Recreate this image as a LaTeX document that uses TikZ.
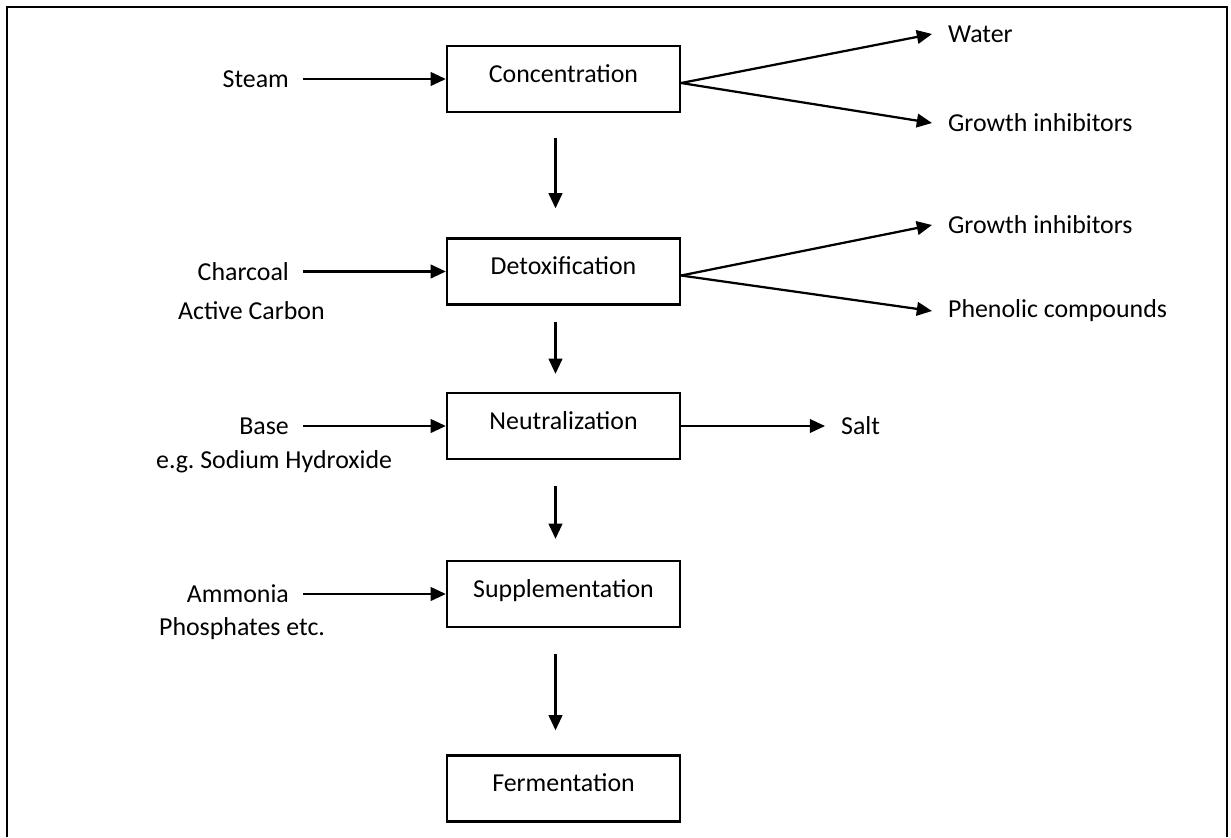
\documentclass[tikz,border=0pt]{standalone}
\usepackage{fontspec}
\setmainfont{Carlito}
\usetikzlibrary{arrows.meta,positioning}

\begin{document}
\begin{tikzpicture}[
      x=0.025cm, y=-0.025cm,
      font=\fontsize{18.4}{22}\selectfont,
      >={Triangle[length=0.38cm, width=0.34cm]},
      line width=1.6pt,
      stepbox/.style={draw, minimum width=5.825cm, minimum height=1.65cm,
                  inner sep=0pt, text height=0.45cm, text depth=0.3cm},
      inlbl/.style={anchor=east, inner xsep=0.325cm, inner ysep=0pt},
      outlbl/.style={anchor=west, inner xsep=0.375cm, inner ysep=0pt},
      note/.style={anchor=base west, inner sep=0pt},
    ]

    \useasboundingbox (0,0) rectangle (1231,837);

    % ---------- marco ----------
    \draw (7,837) -- (7,7) -- (1227,7) -- (1227,837);

    % ---------- pasos ----------
    \node[stepbox] (conc)  at (563.5,79)   {Concentration};
    \node[stepbox] (detox) at (563.5,271.5) {Detoxification};
    \node[stepbox] (neut)  at (563.5,426)  {Neutralization};
    \node[stepbox] (supp)  at (563.5,594)  {Supplementation};
    \node[stepbox] (ferm)  at (563.5,788.5) {Fermentation};

    \draw[->, shorten <=0.625cm, shorten >=0.725cm] ([xshift=-0.2cm]conc.south)  -- ([xshift=-0.2cm]detox.north);
    \draw[->, shorten <=0.4cm,   shorten >=0.45cm]  ([xshift=-0.2cm]detox.south) -- ([xshift=-0.2cm]neut.north);
    \draw[->, shorten <=0.65cm,  shorten >=0.525cm] ([xshift=-0.2cm]neut.south)  -- ([xshift=-0.2cm]supp.north);
    \draw[->, shorten <=0.65cm,  shorten >=0.6cm]   ([xshift=-0.2cm]supp.south)  -- ([xshift=-0.2cm]ferm.north);

    % ---------- entradas ----------
    \node[inlbl] (steam)    at (303,79)    {Steam};
    \node[inlbl] (charcoal) at (303,271.5) {Charcoal};
    \node[note]  (carbon)   at (177,319)   {Active Carbon};
    \node[inlbl] (base)     at (303,426)   {Base};
    \node[note]  (naoh)     at (155,468)   {e.g.\ Sodium Hydroxide};
    \node[inlbl] (ammonia)  at (303,594)   {Ammonia};
    \node[note]  (phosph)   at (158,635)   {Phosphates etc.};

    \draw[->] (steam.east)    -- (conc.west);
    \draw[->] (charcoal.east) -- (detox.west);
    \draw[->] (base.east)     -- (neut.west);
    \draw[->] (ammonia.east)  -- (supp.west);

    % ---------- salidas ----------
    \node[outlbl] (water)  at (932,34)  {Water};
    \node[outlbl] (inhib1) at (932,123) {Growth inhibitors};
    \node[outlbl] (inhib2) at (932,225) {Growth inhibitors};
    \node[outlbl] (phenol) at (932,311) {Phenolic compounds};
    \node[outlbl] (salt)   at (825,426) {Salt};

    \draw[->] ([yshift=-0.1cm]conc.east)  -- (water.west);
    \draw[->] ([yshift=-0.1cm]conc.east)  -- (inhib1.west);
    \draw[->] ([yshift=-0.1cm]detox.east) -- (inhib2.west);
    \draw[->] ([yshift=-0.1cm]detox.east) -- (phenol.west);
    \draw[->] (neut.east) -- (salt.west);

  \end{tikzpicture}
\end{document}
